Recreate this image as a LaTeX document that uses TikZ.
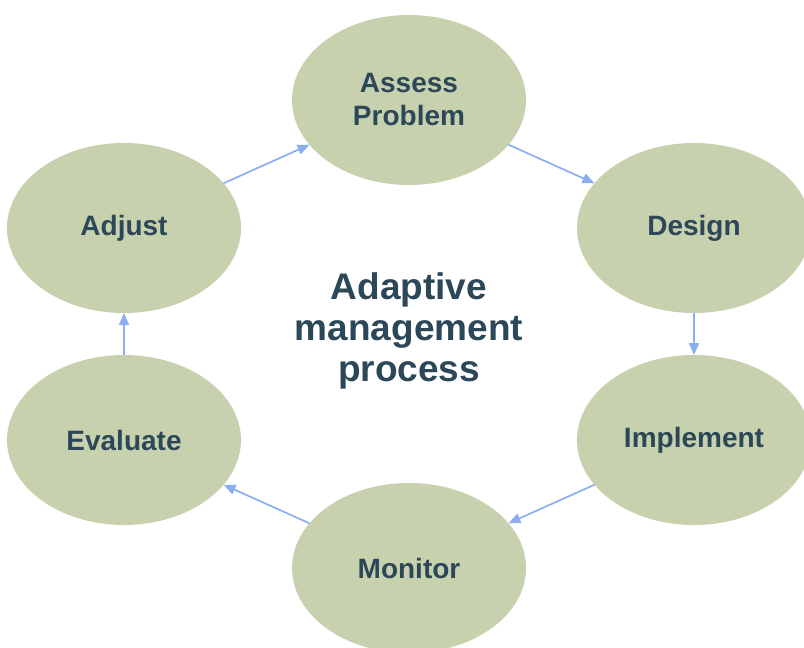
\documentclass[tikz,border=0pt]{standalone}
\usepackage{fontspec}
\setmainfont{Liberation Sans}
\usetikzlibrary{shapes.geometric,arrows.meta}
\definecolor{sage}{RGB}{200,209,174}
\definecolor{slate}{RGB}{44,72,88}
\definecolor{flowblue}{RGB}{138,174,240}
\begin{document}
\begin{tikzpicture}[x=1pt,y=-1pt,
  stage/.style={shape=ellipse,fill=sage,draw=none,minimum width=234pt,minimum height=170pt,
    inner sep=0pt,outer sep=0pt,text=slate,align=center,font=\fontsize{28}{33}\selectfont\bfseries},
  flow/.style={draw=flowblue,line width=1.7pt,-{Triangle[length=12pt,width=10pt]}}]
 \useasboundingbox (0,0) rectangle (804,648);
 \node (stage 1) at (409,100) [stage] {Assess\\Problem};
 \node (stage 2) at (694,228) [stage] {Design};
 \node (stage 3) at (694,440) [stage] {Implement};
 \node (stage 4) at (409,568) [stage] {Monitor};
 \node (stage 5) at (124,440) [stage] {Evaluate};
 \node (stage 6) at (124,228) [stage] {Adjust};
 \node (title) at (409,331) [text=slate,align=center,font=\fontsize{37}{41}\selectfont\bfseries] {Adaptive\\management\\process};
 \draw[flow] (stage 1) -- (stage 2);
 \draw[flow] (stage 2) -- (stage 3);
 \draw[flow] (stage 3) -- (stage 4);
 \draw[flow] (stage 4) -- (stage 5);
 \draw[flow] (stage 5) -- (stage 6);
 \draw[flow] (stage 6) -- (stage 1);
\end{tikzpicture}
\end{document}
